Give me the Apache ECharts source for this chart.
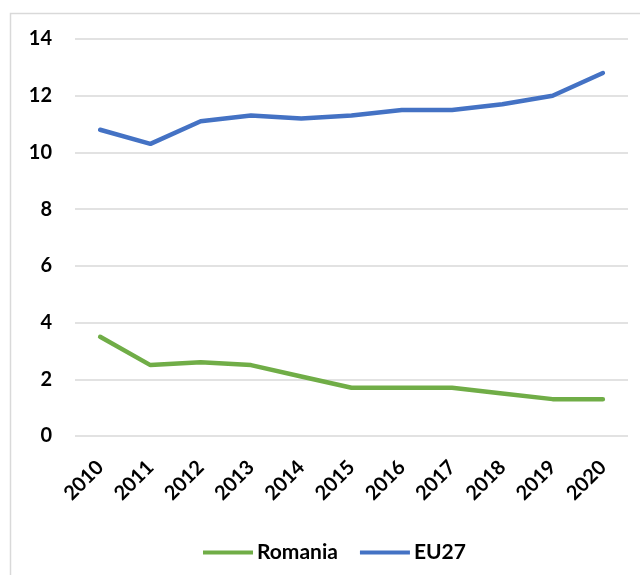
<!DOCTYPE html>
<html><head><meta charset="utf-8">
<script src="https://cdn.jsdelivr.net/npm/echarts@6/dist/echarts.min.js"></script>
<style>html,body{margin:0;padding:0;background:#fff}#c{width:640px;height:575px}</style>
</head><body><div id="c"></div>
<script>
var years = ['2010','2011','2012','2013','2014','2015','2016','2017','2018','2019','2020'];
var romania = [3.5, 2.5, 2.6, 2.5, 2.1, 1.7, 1.7, 1.7, 1.5, 1.3, 1.3];
var eu27 = [10.8, 10.3, 11.1, 11.3, 11.2, 11.3, 11.5, 11.5, 11.7, 12.0, 12.8];
var yTicks = [0, 2, 4, 6, 8, 10, 12, 14];

var chart = echarts.init(document.getElementById('c'));
var font = 'Lato, "Open Sans", sans-serif';
chart.setOption({
  animation: false,
  graphic: [{type:'rect', shape:{x:10.5, y:13.5, width:640, height:600}, style:{fill:'none', stroke:'#d9d9d9', lineWidth:1.5}}],
  grid: {left: 75, right: 12, top: 39, bottom: 139},
  legend: {
    top: 537, left: 198,
    data: ['Romania','EU27'],
    icon: 'rect', itemWidth: 50, itemHeight: 4, itemGap: 22,
    textStyle: {color:'#000', fontWeight:'bold', fontSize:21, fontFamily: font, padding:[0,0,0,-1]}
  },
  xAxis: {
    type: 'category', data: years, boundaryGap: true,
    axisLine: {show:false}, axisTick: {show:false},
    axisLabel: {rotate: 45, margin: 28, color:'#000', fontWeight:'bold', fontSize:20, fontFamily: font, interval:0}
  },
  yAxis: {
    type: 'value', min: yTicks[0], max: yTicks[yTicks.length-1], interval: 2,
    axisLine: {show:false}, axisTick: {show:false},
    splitLine: {lineStyle:{color:'#d9d9d9', width:1.5}},
    axisLabel: {margin: 23, color:'#000', fontWeight:'bold', fontSize:20, fontFamily: font}
  },
  series: [
    {name:'Romania', type:'line', data: romania, showSymbol:false, symbol:'none',
     lineStyle:{color:'#70AD47', width:4.5, cap:'round'}, itemStyle:{color:'#70AD47'}},
    {name:'EU27', type:'line', data: eu27, showSymbol:false, symbol:'none',
     lineStyle:{color:'#4472C4', width:4.5, cap:'round'}, itemStyle:{color:'#4472C4'}}
  ]
});
</script></body></html>
